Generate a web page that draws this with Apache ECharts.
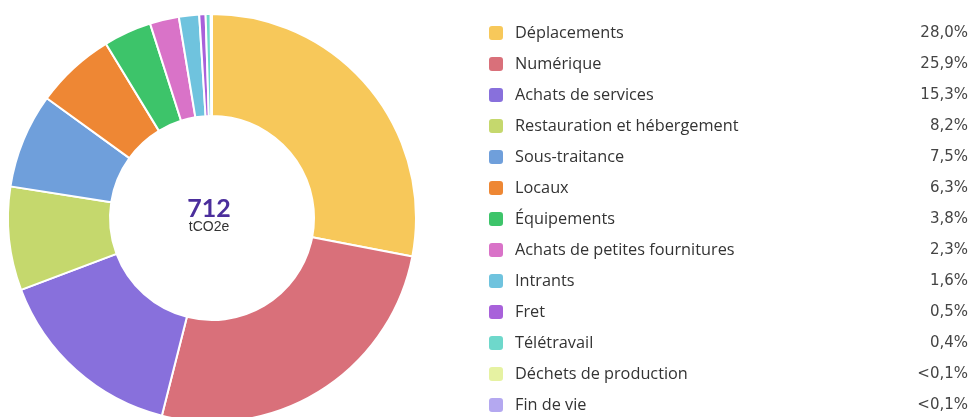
<!DOCTYPE html>
<html>
<head>
<meta charset="utf-8">
<script src="https://cdn.jsdelivr.net/npm/echarts@6/dist/echarts.min.js"></script>
<style>
  html, body { margin: 0; padding: 0; background: #fff; }
  #chart { width: 971px; height: 417px; }
</style>
</head>
<body>
<div id="chart"></div>
<script>
// postes d'émission
var categories = ['Déplacements', 'Numérique', 'Achats de services', 'Restauration et hébergement',
  'Sous-traitance', 'Locaux', 'Équipements', 'Achats de petites fournitures', 'Intrants',
  'Fret', 'Télétravail', 'Déchets de production', 'Fin de vie'];
// part en %
var shares = [28.0, 25.9, 15.3, 8.2, 7.5, 6.3, 3.8, 2.3, 1.6, 0.5, 0.4, 0.05, 0.05];
var shareLabels = ['28,0%', '25,9%', '15,3%', '8,2%', '7,5%', '6,3%', '3,8%', '2,3%', '1,6%',
  '0,5%', '0,4%', '<0,1%', '<0,1%'];
var colors = ['#F7C85A', '#D9707A', '#8870DC', '#C5D86D', '#6F9FDB', '#EE8734', '#3DC46A',
  '#D973C8', '#6FC3DE', '#A861DA', '#6ED8CB', '#E6F2A2', '#B4A8F0'];
var total = 712;
var unit = 'tCO2e';

var chart = echarts.init(document.getElementById('chart'));

var pieData = categories.map(function (name, i) {
  return { name: name, value: shares[i] };
});

chart.setOption({
  animation: false,
  color: colors,
  // total au centre du donut
  graphic: [
    {
      type: 'text', x: 209, y: 209,
      style: { text: String(total), align: 'center', verticalAlign: 'middle',
        font: 'bold 25px Lato', fill: '#4B2E9C' }
    },
    {
      type: 'text', x: 209, y: 227,
      style: { text: unit, align: 'center', verticalAlign: 'middle',
        font: '14px "Liberation Sans"', fill: '#333' }
    }
  ],
  legend: {
    orient: 'vertical',
    left: 487,
    top: 24,
    padding: 0,
    itemWidth: 16,
    itemHeight: 16,
    itemGap: 13,
    icon: 'roundRect',
    selectedMode: false,
    formatter: function (name) {
      var i = categories.indexOf(name);
      return '{n|' + name + '}{p|' + shareLabels[i] + '}';
    },
    textStyle: {
      rich: {
        n: { width: 373, padding: [0, 0, 0, 6], fontFamily: 'Open Sans', fontSize: 16.3, color: '#333', lineHeight: 16 },
        p: { width: 80, align: 'right', fontFamily: 'DejaVu Sans', fontSize: 15, color: '#444', lineHeight: 16 }
      }
    }
  },
  series: [{
    type: 'pie',
    center: [212, 218],
    radius: [102, 204],
    startAngle: 90,
    clockwise: true,
    label: { show: false },
    labelLine: { show: false },
    itemStyle: { borderColor: '#fff', borderWidth: 2 },
    emphasis: { disabled: true },
    data: pieData
  }]
});
</script>
</body>
</html>
